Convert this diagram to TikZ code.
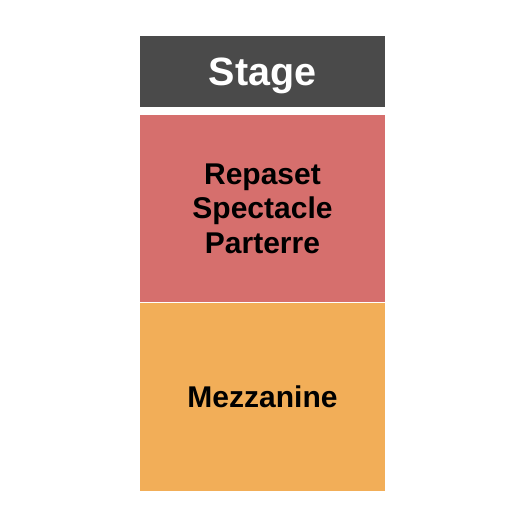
\documentclass[tikz,border=0pt]{standalone}
\usepackage{fontspec}
\setmainfont{Liberation Sans}
\usepackage{tikz}
\usetikzlibrary{positioning}
\definecolor{stagegray}{HTML}{4A4A4A}
\definecolor{parterrered}{HTML}{D66F6D}
\definecolor{mezzorange}{HTML}{F2AE58}
\tikzstyle{section}=[rectangle,inner sep=0pt,minimum width=245pt,align=center,font=\bfseries\fontsize{30}{34.5}\selectfont]

\begin{document}
\begin{tikzpicture}[x=1pt,y=1pt]
	\useasboundingbox[fill=white] (0,0) rectangle (525,525);
	\node(stage)[section,fill=stagegray,text=white,minimum height=71.5pt,text depth=0pt,font=\bfseries\fontsize{39.5}{44}\selectfont] at (262.5,453.25){Stage};
	\node(parterre)[section,fill=parterrered,minimum height=186.5pt,below=7.5pt of stage]{Repaset\\Spectacle\\Parterre};
	\node(mezz)[section,fill=mezzorange,minimum height=187.5pt,below=1pt of parterre]{Mezzanine};
\end{tikzpicture}
\end{document}
